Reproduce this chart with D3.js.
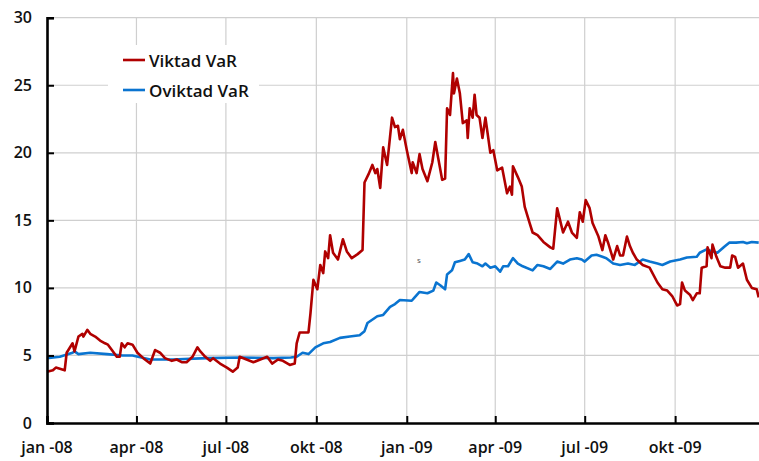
<!DOCTYPE html>
<html>
<head>
<meta charset="utf-8">
<script src="https://cdn.jsdelivr.net/npm/d3@7"></script>
<style>
  html, body { margin: 0; padding: 0; background: #fff; }
  #viz1 { width: 759px; height: 461px; overflow: hidden; }
  text { font-family: "Open Sans", "DejaVu Sans", sans-serif; }
</style>
</head>
<body>
<div id="viz1"></div>
<script>
"use strict";
// series, Viktad VaR (red)
const viktadDates = ["2008-01-01","2008-01-07","2008-01-10","2008-01-19","2008-01-21","2008-01-27","2008-01-29","2008-02-02","2008-02-06","2008-02-07","2008-02-11","2008-02-14","2008-02-19","2008-02-24","2008-02-29","2008-03-03","2008-03-07","2008-03-12","2008-03-15","2008-03-17","2008-03-20","2008-03-23","2008-03-28","2008-04-02","2008-04-08","2008-04-15","2008-04-20","2008-04-25","2008-04-30","2008-05-07","2008-05-12","2008-05-17","2008-05-22","2008-05-28","2008-06-02","2008-06-05","2008-06-10","2008-06-15","2008-06-18","2008-06-25","2008-07-02","2008-07-08","2008-07-13","2008-07-15","2008-07-22","2008-07-29","2008-08-05","2008-08-12","2008-08-17","2008-08-23","2008-08-28","2008-09-04","2008-09-09","2008-09-11","2008-09-14","2008-09-23","2008-09-25","2008-09-28","2008-10-02","2008-10-05","2008-10-08","2008-10-10","2008-10-13","2008-10-15","2008-10-18","2008-10-23","2008-10-28","2008-11-01","2008-11-06","2008-11-12","2008-11-17","2008-11-19","2008-11-23","2008-11-27","2008-11-30","2008-12-02","2008-12-05","2008-12-08","2008-12-12","2008-12-17","2008-12-20","2008-12-23","2008-12-25","2008-12-28","2009-01-01","2009-01-06","2009-01-07","2009-01-11","2009-01-14","2009-01-17","2009-01-22","2009-01-27","2009-01-30","2009-02-02","2009-02-06","2009-02-09","2009-02-11","2009-02-14","2009-02-17","2009-02-18","2009-02-21","2009-02-24","2009-02-27","2009-03-03","2009-03-04","2009-03-06","2009-03-09","2009-03-11","2009-03-13","2009-03-16","2009-03-19","2009-03-22","2009-03-27","2009-03-30","2009-04-03","2009-04-08","2009-04-13","2009-04-16","2009-04-18","2009-04-19","2009-04-24","2009-04-28","2009-05-01","2009-05-06","2009-05-09","2009-05-14","2009-05-20","2009-05-27","2009-05-30","2009-06-03","2009-06-06","2009-06-09","2009-06-14","2009-06-18","2009-06-23","2009-06-26","2009-06-29","2009-07-02","2009-07-06","2009-07-09","2009-07-15","2009-07-19","2009-07-22","2009-07-25","2009-07-30","2009-08-03","2009-08-06","2009-08-09","2009-08-13","2009-08-16","2009-08-19","2009-08-23","2009-08-29","2009-09-05","2009-09-13","2009-09-18","2009-09-23","2009-09-28","2009-10-03","2009-10-06","2009-10-08","2009-10-11","2009-10-16","2009-10-19","2009-10-23","2009-10-26","2009-10-28","2009-11-02","2009-11-03","2009-11-07","2009-11-08","2009-11-12","2009-11-16","2009-11-21","2009-11-26","2009-11-28","2009-12-01","2009-12-04","2009-12-09","2009-12-13","2009-12-18","2009-12-23","2009-12-25"]
const viktadValues = [3.8,3.9,4.1,3.9,5.2,5.9,5.3,6.4,6.6,6.4,6.9,6.6,6.4,6.1,5.9,5.8,5.4,4.9,4.9,5.9,5.6,5.9,5.8,5.2,4.8,4.4,5.4,5.2,4.8,4.6,4.7,4.5,4.5,4.9,5.6,5.3,4.9,4.6,4.8,4.4,4.1,3.8,4.1,4.9,4.7,4.5,4.7,4.9,4.4,4.7,4.6,4.3,4.4,5.9,6.7,6.7,8.1,10.6,9.9,11.7,11.1,12.7,12.2,13.9,12.6,12.1,13.6,12.7,12.2,12.5,12.8,17.8,18.4,19.1,18.5,18.8,17.4,20.4,19.1,22.6,21.9,22.0,21.0,21.7,20.2,18.5,19.3,18.5,19.9,18.8,17.9,19.3,20.8,19.6,18.0,18.1,23.3,22.8,25.9,24.4,25.5,24.4,22.2,22.4,21.1,23.3,22.6,24.3,22.8,22.6,21.1,22.6,20.0,20.2,18.7,18.9,17.0,17.5,16.9,19.0,18.2,17.5,16.0,14.8,14.1,13.9,13.4,13.0,12.9,15.9,15.0,14.1,14.9,14.1,13.7,15.6,14.9,16.5,15.9,14.8,13.8,12.8,13.9,13.3,12.1,13.1,12.4,12.4,13.8,13.1,12.6,12.1,11.7,11.5,10.4,9.9,9.8,9.4,8.7,8.8,10.4,9.8,9.5,9.1,9.6,9.6,11.5,11.6,13.0,12.2,13.2,12.3,11.6,11.5,11.5,12.4,12.3,11.5,11.8,10.6,10.0,9.9,9.3]

// Oviktad VaR (blue)
const oviktadDates = ["2008-01-01","2008-01-14","2008-01-27","2008-01-29","2008-02-02","2008-02-14","2008-03-02","2008-03-18","2008-03-28","2008-04-15","2008-05-08","2008-06-12","2008-07-15","2008-08-18","2008-09-05","2008-09-11","2008-09-17","2008-09-23","2008-09-30","2008-10-08","2008-10-15","2008-10-25","2008-11-04","2008-11-14","2008-11-19","2008-11-22","2008-12-02","2008-12-08","2008-12-15","2008-12-20","2008-12-25","2009-01-06","2009-01-09","2009-01-14","2009-01-22","2009-01-28","2009-01-31","2009-02-04","2009-02-09","2009-02-11","2009-02-16","2009-02-19","2009-02-24","2009-03-01","2009-03-05","2009-03-09","2009-03-14","2009-03-19","2009-03-22","2009-03-27","2009-04-01","2009-04-06","2009-04-09","2009-04-14","2009-04-19","2009-04-24","2009-04-29","2009-05-09","2009-05-14","2009-05-20","2009-05-27","2009-06-03","2009-06-09","2009-06-16","2009-06-23","2009-06-28","2009-07-01","2009-07-08","2009-07-13","2009-07-19","2009-07-23","2009-07-30","2009-08-06","2009-08-14","2009-08-21","2009-08-29","2009-09-05","2009-09-13","2009-09-18","2009-09-26","2009-10-06","2009-10-13","2009-10-23","2009-10-26","2009-11-02","2009-11-08","2009-11-13","2009-11-20","2009-11-25","2009-12-02","2009-12-09","2009-12-13","2009-12-18","2009-12-25"]
const oviktadValues = [4.8,4.9,5.2,5.3,5.1,5.2,5.1,5.0,5.0,4.7,4.7,4.8,4.85,4.8,4.85,4.9,5.2,5.1,5.6,5.9,6.0,6.3,6.4,6.5,6.8,7.4,7.9,8.0,8.6,8.8,9.1,9.05,9.3,9.7,9.6,9.8,10.4,10.2,9.9,11.0,11.3,11.9,12.0,12.1,12.5,11.9,11.8,11.6,11.8,11.5,11.6,11.2,11.6,11.6,12.2,11.8,11.6,11.3,11.7,11.6,11.4,11.95,11.8,12.1,12.2,12.1,11.95,12.4,12.45,12.3,12.2,11.8,11.7,11.8,11.7,12.1,11.95,11.8,11.7,11.95,12.1,12.25,12.3,12.6,12.85,12.7,12.6,13.05,13.35,13.35,13.4,13.3,13.4,13.35]

const yTicks = [0, 5, 10, 15, 20, 25, 30]
const xTickDates = ["2008-01-01","2008-04-01","2008-07-01","2008-10-01","2009-01-01","2009-04-01","2009-07-01","2009-10-01"]
const monthNames = ["jan","feb","mar","apr","maj","jun","jul","aug","sep","okt","nov","dec"]
const seriesNames = ["Viktad VaR", "Oviktad VaR"]
const seriesColors = ["#b00000", "#0a74d0"]

const m = { width: 759, height: 461, left: 47, top: 17.7, bottom: 423 }
const parse = d3.timeParse("%Y-%m-%d")

const svg = d3.select("#viz1").append("svg")
    .attr("width", m.width)
    .attr("height", m.height)

const x = d3.scaleTime()
    .domain([parse("2008-01-01"), parse("2010-01-01")])
    .range([m.left, m.left + 731 * 0.983])
const y = d3.scaleLinear()
    .domain([0, 30])
    .range([m.bottom, m.top])

// gridlines
svg.append("g")
  .selectAll("line")
  .data(yTicks.slice(1))
  .enter().append("line")
    .attr("x1", m.left).attr("x2", m.width)
    .attr("y1", d => y(d)).attr("y2", d => y(d))
    .attr("stroke", "#cfcfcf").attr("stroke-width", 1.2)
svg.append("g")
  .selectAll("line")
  .data(xTickDates.slice(1))
  .enter().append("line")
    .attr("x1", d => x(parse(d))).attr("x2", d => x(parse(d)))
    .attr("y1", y(30)).attr("y2", m.bottom)
    .attr("stroke", "#cfcfcf").attr("stroke-width", 1.2)

// legend box hides the grid behind it
svg.append("rect")
    .attr("x", 108).attr("y", 45)
    .attr("width", 151).attr("height", 58)
    .attr("fill", "#fff")

// stray label in the original
svg.append("text")
    .attr("x", 417).attr("y", 263)
    .attr("font-size", "8px")
    .attr("fill", "#555")
    .text("s")

// lines
const line = d3.line()
    .x(d => x(d.date))
    .y(d => y(d.value))
const viktad = viktadDates.map((d, i) => ({ date: parse(d), value: viktadValues[i] }))
const oviktad = oviktadDates.map((d, i) => ({ date: parse(d), value: oviktadValues[i] }))

svg.append("path")
    .datum(oviktad)
    .attr("d", line)
    .attr("fill", "none")
    .attr("stroke", seriesColors[1])
    .attr("stroke-width", 2.6)
    .attr("stroke-linejoin", "round")
svg.append("path")
    .datum(viktad)
    .attr("d", line)
    .attr("fill", "none")
    .attr("stroke", seriesColors[0])
    .attr("stroke-width", 2.6)
    .attr("stroke-linejoin", "round")

// axes, ticks pointing inward
const yAxis = svg.append("g")
    .attr("transform", "translate(" + m.left + ",0)")
    .call(d3.axisRight(y).tickValues(yTicks).tickSize(7).tickFormat(""))
yAxis.select(".domain").attr("stroke", "#000").attr("stroke-width", 2.6)
yAxis.selectAll(".tick line").attr("stroke", "#000").attr("stroke-width", 2)

const xAxis = svg.append("g")
    .attr("transform", "translate(0," + m.bottom + ")")
    .call(d3.axisTop(x).tickValues(xTickDates.map(parse)).tickSize(7).tickFormat(""))
xAxis.select(".domain").attr("stroke", "#000").attr("stroke-width", 2.6)
xAxis.selectAll(".tick line").attr("stroke", "#000").attr("stroke-width", 2)

// tick labels
svg.append("g")
  .selectAll("text")
  .data(yTicks)
  .enter().append("text")
    .attr("x", 32)
    .attr("y", d => y(d) + 5.5)
    .attr("text-anchor", "end")
    .attr("font-size", "16px")
    .attr("font-weight", 600)
    .attr("fill", "#111")
    .text(d => d)
svg.append("g")
  .selectAll("text")
  .data(xTickDates)
  .enter().append("text")
    .attr("x", d => x(parse(d)))
    .attr("y", 453)
    .attr("text-anchor", "middle")
    .attr("font-size", "16px")
    .attr("font-weight", 600)
    .attr("fill", "#111")
    .text(d => {
      let dt = parse(d)
      return monthNames[dt.getMonth()] + " -" + d3.timeFormat("%y")(dt)
    })

// legend
const legend = svg.append("g")
  .selectAll("g")
  .data(seriesNames)
  .enter().append("g")
    .attr("transform", (d, i) => "translate(123," + (60 + i * 30) + ")")
legend.append("line")
    .attr("x1", 0).attr("x2", 22)
    .attr("stroke", (d, i) => seriesColors[i])
    .attr("stroke-width", 2.6)
legend.append("text")
    .attr("x", 26)
    .attr("y", 6.5)
    .attr("font-size", "17px")
    .attr("font-weight", 600)
    .attr("fill", "#111")
    .text(d => d)
</script>
</body>
</html>
